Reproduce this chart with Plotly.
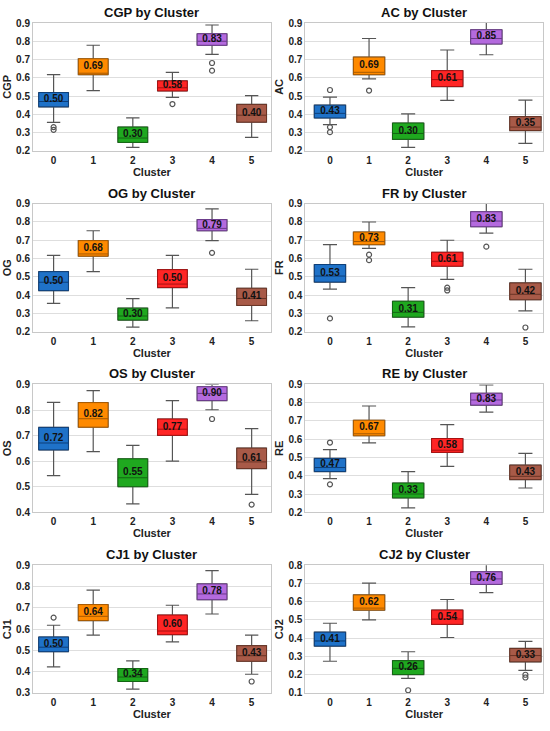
import plotly.graph_objects as go
from plotly.subplots import make_subplots

# cluster ids and metric names (one panel per metric)
clusters = [0, 1, 2, 3, 4, 5]
metrics = ["CGP", "AC", "OG", "FR", "OS", "RE", "CJ1", "CJ2"]

# box statistics, one row per metric, one value per cluster
lower_fence = [
    [0.356, 0.530, 0.219, 0.493, 0.728, 0.274],
    [0.343, 0.594, 0.219, 0.476, 0.726, 0.241],
    [0.354, 0.528, 0.224, 0.330, 0.698, 0.259],
    [0.432, 0.656, 0.226, 0.486, 0.739, 0.313],
    [0.543, 0.637, 0.433, 0.600, 0.801, 0.470],
    [0.384, 0.580, 0.224, 0.451, 0.748, 0.333],
    [0.423, 0.572, 0.318, 0.540, 0.671, 0.388],
    [0.274, 0.500, 0.180, 0.404, 0.650, 0.224],
]
q1 = [
    [0.441, 0.617, 0.246, 0.528, 0.778, 0.357],
    [0.380, 0.617, 0.263, 0.552, 0.785, 0.311],
    [0.424, 0.613, 0.263, 0.441, 0.752, 0.343],
    [0.471, 0.676, 0.279, 0.558, 0.774, 0.374],
    [0.644, 0.733, 0.500, 0.701, 0.837, 0.571],
    [0.423, 0.619, 0.279, 0.528, 0.787, 0.379],
    [0.494, 0.640, 0.354, 0.574, 0.738, 0.449],
    [0.357, 0.554, 0.201, 0.476, 0.695, 0.271],
]
median = [
    [0.470, 0.625, 0.270, 0.545, 0.800, 0.395],
    [0.405, 0.630, 0.295, 0.590, 0.815, 0.330],
    [0.470, 0.625, 0.285, 0.460, 0.765, 0.381],
    [0.504, 0.693, 0.305, 0.585, 0.805, 0.404],
    [0.671, 0.766, 0.535, 0.725, 0.865, 0.597],
    [0.445, 0.630, 0.300, 0.540, 0.815, 0.397],
    [0.515, 0.660, 0.375, 0.591, 0.765, 0.475],
    [0.385, 0.565, 0.235, 0.505, 0.725, 0.305],
]
q3 = [
    [0.519, 0.704, 0.330, 0.583, 0.841, 0.454],
    [0.450, 0.713, 0.352, 0.639, 0.863, 0.387],
    [0.528, 0.698, 0.328, 0.539, 0.813, 0.437],
    [0.567, 0.745, 0.366, 0.634, 0.856, 0.466],
    [0.732, 0.829, 0.609, 0.765, 0.891, 0.651],
    [0.495, 0.704, 0.360, 0.604, 0.852, 0.458],
    [0.563, 0.715, 0.415, 0.666, 0.812, 0.522],
    [0.433, 0.637, 0.277, 0.554, 0.764, 0.344],
]
upper_fence = [
    [0.617, 0.778, 0.380, 0.630, 0.889, 0.502],
    [0.494, 0.815, 0.402, 0.752, 0.919, 0.478],
    [0.617, 0.752, 0.380, 0.617, 0.872, 0.541],
    [0.676, 0.800, 0.440, 0.700, 0.911, 0.541],
    [0.830, 0.876, 0.662, 0.837, 0.900, 0.727],
    [0.543, 0.782, 0.423, 0.680, 0.898, 0.523],
    [0.618, 0.783, 0.451, 0.712, 0.875, 0.572],
    [0.482, 0.702, 0.326, 0.612, 0.829, 0.383],
]
means = [
    [0.50, 0.69, 0.30, 0.58, 0.83, 0.40],
    [0.43, 0.69, 0.30, 0.61, 0.85, 0.35],
    [0.50, 0.68, 0.30, 0.50, 0.79, 0.41],
    [0.53, 0.73, 0.31, 0.61, 0.83, 0.42],
    [0.72, 0.82, 0.55, 0.77, 0.90, 0.61],
    [0.47, 0.67, 0.33, 0.58, 0.83, 0.43],
    [0.50, 0.64, 0.34, 0.60, 0.78, 0.43],
    [0.41, 0.62, 0.26, 0.54, 0.76, 0.33],
]
outliers = [
    [[0.330, 0.315], [], [], [0.456], [0.931, 0.681, 0.639], []],
    [[0.533, 0.330, 0.302], [0.530], [], [], [], []],
    [[], [], [], [], [0.926, 0.631], []],
    [[0.272], [0.621, 0.591], [], [0.440, 0.425], [0.665], [0.222]],
    [[], [], [], [], [0.765], [0.430]],
    [[0.582, 0.353], [], [], [], [], []],
    [[0.654], [], [], [], [], [0.354]],
    [[], [], [0.115], [], [], [0.200, 0.185]],
]

y_ranges = {"OS": [0.4, 0.9], "CJ1": [0.3, 0.9], "CJ2": [0.1, 0.8]}

fills = ["#1f72c8", "#ff8a00", "#1fa81f", "#ff2525", "#b46ade", "#a85a48"]
edges = ["#0d3f7a", "#a85a00", "#136613", "#a81010", "#6a3a8a", "#6a3425"]
whisker_color = "#555555"
font = "Liberation Sans, Arial, sans-serif"

fig = make_subplots(
    rows=4, cols=2,
    horizontal_spacing=0.068, vertical_spacing=0.079,
    subplot_titles=[f"{m} by Cluster" for m in metrics],
)

for k, m in enumerate(metrics):
    row, col = k // 2 + 1, k % 2 + 1
    bw = 0.75 if col == 1 else 0.8
    for c in clusters:
        # grey whiskers + caps
        fig.add_trace(go.Box(
            x=[c], q1=[q1[k][c]], median=[median[k][c]], q3=[q3[k][c]],
            lowerfence=[lower_fence[k][c]], upperfence=[upper_fence[k][c]],
            width=bw, whiskerwidth=0.45, fillcolor="rgba(0,0,0,0)",
            line=dict(color=whisker_color, width=1.2), boxpoints=False,
            showlegend=False, hoverinfo="skip",
        ), row=row, col=col)
        # coloured box on top
        fig.add_trace(go.Box(
            x=[c], q1=[q1[k][c]], median=[median[k][c]], q3=[q3[k][c]],
            lowerfence=[q1[k][c]], upperfence=[q3[k][c]],
            width=bw, whiskerwidth=0, fillcolor=fills[c],
            line=dict(color=edges[c], width=1), boxpoints=False,
            showlegend=False,
        ), row=row, col=col)

    # outliers
    ox, oy = [], []
    for c in clusters:
        for v in outliers[k][c]:
            ox.append(c)
            oy.append(v)
    fig.add_trace(go.Scatter(
        x=ox, y=oy, mode="markers", cliponaxis=False,
        marker=dict(symbol="circle-open", size=5, color=whisker_color, line=dict(width=1.2)),
        showlegend=False, hoverinfo="skip",
    ), row=row, col=col)

    # mean labels in the middle of each box
    fig.add_trace(go.Scatter(
        x=clusters, y=[(a + b) / 2 for a, b in zip(q1[k], q3[k])],
        text=[f"{v:.2f}" for v in means[k]], mode="text", cliponaxis=False,
        textfont=dict(family=font, size=10, color="#111111", weight="bold"),
        showlegend=False, hoverinfo="skip",
    ), row=row, col=col)

    fig.update_xaxes(
        range=[-0.52, 5.48] if col == 1 else [-0.63, 5.45],
        tickvals=clusters, showgrid=False, zeroline=False,
        showline=True, mirror=True, linecolor="#c8c8c8", linewidth=1, ticks="",
        tickfont=dict(family=font, size=10, color="#222", weight="bold"),
        title=dict(text="Cluster", standoff=3,
                   font=dict(family=font, size=11, color="#222", weight="bold")),
        row=row, col=col,
    )
    fig.update_yaxes(
        range=y_ranges.get(m, [0.2, 0.9]), dtick=0.1, tickformat=".1f",
        showgrid=True, gridcolor="#dedede", zeroline=False,
        showline=True, mirror=True, linecolor="#c8c8c8", linewidth=1, ticks="",
        tickfont=dict(family=font, size=10, color="#222", weight="bold"),
        title=dict(text=m, standoff=2,
                   font=dict(family=font, size=11, color="#222", weight="bold")),
        row=row, col=col,
    )

fig.update_annotations(font=dict(family=font, size=13, color="#111", weight="bold"), yshift=1)

fig.update_layout(
    width=550, height=731,
    margin=dict(l=29, r=6, t=23, b=38),
    paper_bgcolor="white", plot_bgcolor="white",
    boxmode="overlay", showlegend=False,
)

# drop the browser's default page margin so the figure sits at the top-left corner
fig.write_html("out.html", config={"displayModeBar": False},
               post_script="document.body.style.margin='0';")
